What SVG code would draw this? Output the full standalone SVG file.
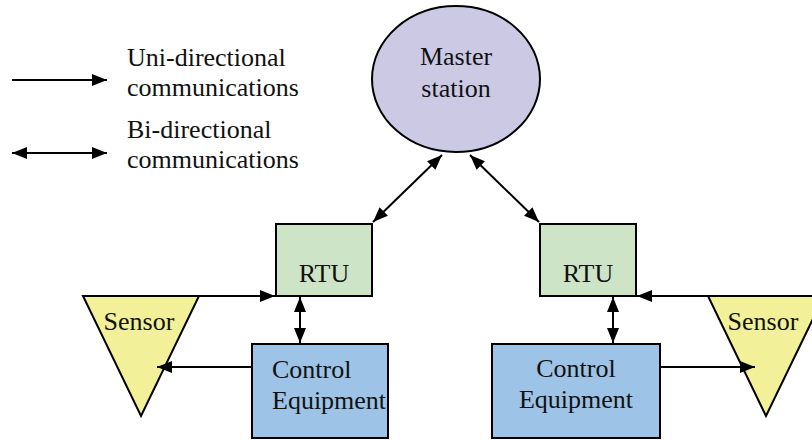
<svg xmlns="http://www.w3.org/2000/svg" width="812" height="440" viewBox="0 0 812 440">
<style>
  text { font-family: "Liberation Serif", "Times New Roman", serif; font-size: 26px; fill: #111; }
  .c { text-anchor: middle; }
  .edge { stroke: #000; stroke-width: 2; fill: none; }
  .shape { stroke: #000; stroke-width: 2; }
</style>
<defs>
  <marker id="ah" viewBox="0 0 15 12" refX="15" refY="6" markerWidth="15" markerHeight="12" markerUnits="userSpaceOnUse" orient="auto-start-reverse">
    <path d="M0,0 L15,6 L0,12 Z" fill="#000"/>
  </marker>
</defs>
<rect width="812" height="440" fill="#fff"/>

<g id="legend">
  <line class="edge" x1="12" y1="80" x2="107" y2="80" marker-end="url(#ah)"/>
  <text x="127" y="66">Uni-directional</text>
  <text x="127" y="96">communications</text>
  <line class="edge" x1="12" y1="153" x2="107" y2="153" marker-start="url(#ah)" marker-end="url(#ah)"/>
  <text x="127" y="138">Bi-directional</text>
  <text x="127" y="168">communications</text>
</g>

<g id="master">
  <ellipse class="shape" cx="456" cy="79" rx="84" ry="73" fill="#ccc9e5"/>
  <text class="c" x="456" y="65">Master</text>
  <text class="c" x="456" y="97">station</text>
</g>

<g id="rtu-left">
  <rect class="shape" x="276" y="224" width="96" height="72" fill="#cde5c6"/>
  <text class="c" x="324" y="282">RTU</text>
</g>

<g id="rtu-right">
  <rect class="shape" x="540" y="224" width="96" height="72" fill="#cde5c6"/>
  <text class="c" x="588" y="282">RTU</text>
</g>

<g id="sensor-left">
  <polygon class="shape" points="83,296 199,296 141,416" fill="#f3f09a"/>
  <text class="c" x="139" y="330">Sensor</text>
</g>

<g id="sensor-right">
  <polygon class="shape" points="708,296 824,296 766,416" fill="#f3f09a"/>
  <text class="c" x="763" y="330">Sensor</text>
</g>

<g id="control-left">
  <rect class="shape" x="252" y="344" width="136" height="94" fill="#9dc3e6"/>
  <text x="272" y="378">Control</text>
  <text x="272" y="409">Equipment</text>
</g>

<g id="control-right">
  <rect class="shape" x="492" y="344" width="168" height="94" fill="#9dc3e6"/>
  <text class="c" x="576" y="377">Control</text>
  <text class="c" x="576" y="408">Equipment</text>
</g>

<g id="connectors">
  <line class="edge" x1="442" y1="155" x2="373" y2="222" marker-start="url(#ah)" marker-end="url(#ah)"/>
  <line class="edge" x1="470" y1="155" x2="539" y2="222" marker-start="url(#ah)" marker-end="url(#ah)"/>
  <line class="edge" x1="199" y1="296" x2="275" y2="296" marker-end="url(#ah)"/>
  <line class="edge" x1="812" y1="296" x2="637" y2="296" marker-end="url(#ah)"/>
  <line class="edge" x1="300" y1="297" x2="300" y2="343" marker-start="url(#ah)" marker-end="url(#ah)"/>
  <line class="edge" x1="613" y1="297" x2="613" y2="343" marker-start="url(#ah)" marker-end="url(#ah)"/>
  <line class="edge" x1="252" y1="367" x2="157" y2="367" marker-end="url(#ah)"/>
  <line class="edge" x1="660" y1="367" x2="755" y2="367" marker-end="url(#ah)"/>
</g>
</svg>
